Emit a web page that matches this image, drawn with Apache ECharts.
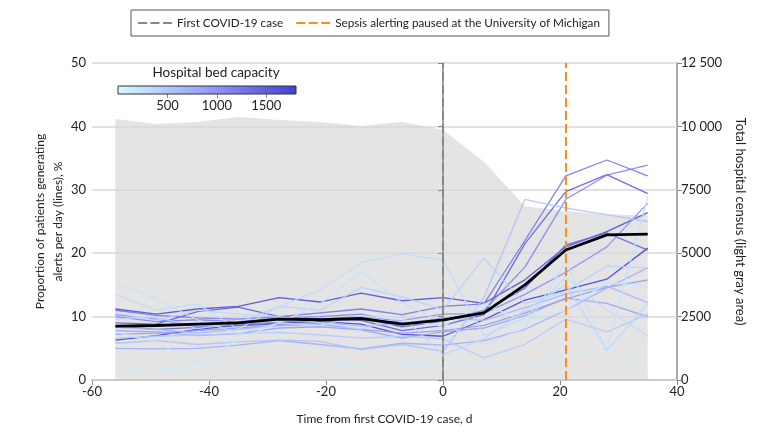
<!DOCTYPE html>
<html>
<head>
<meta charset="utf-8">
<script src="https://cdn.jsdelivr.net/npm/echarts@6/dist/echarts.min.js"></script>
<style>html,body{margin:0;padding:0;background:#fff;}#c{width:780px;height:438px;}</style>
</head>
<body>
<div id="c"></div>
<script>
// ---- data ----
const days = [-56, -49, -42, -35, -28, -21, -14, -7, 0, 7, 14, 21, 28, 35];
const census = [10290, 10095, 10170, 10370, 10250, 10170, 10015, 10185, 9860, 8610, 6850, 6665, 6530, 6505];
const meanAlerts = [8.5, 8.6, 8.8, 9.0, 9.6, 9.5, 9.7, 8.8, 9.5, 10.6, 15.0, 20.5, 22.9, 23.0];
const bedCapacity = [1780, 1650, 1500, 1420, 1280, 1150, 1050, 950, 880, 760, 680, 560, 480, 400, 320, 250, 180, 120, 350];
const h1  = [6.3, 7.0, 8.0, 8.6, 9.0, 9.2, 8.8, 7.2, 6.9, 9.5, 12.6, 14.2, 15.9, 20.8];
const h2  = [11.2, 10.4, 11.2, 11.6, 13.0, 12.3, 13.7, 12.5, 13.0, 12.1, 15.8, 21.0, 23.4, 26.4];
const h3  = [9.0, 8.8, 10.8, 11.5, 10.0, 9.6, 9.4, 7.8, 8.6, 10.3, 21.5, 29.7, 32.4, 29.4];
const h4  = [8.5, 8.0, 8.3, 8.6, 8.8, 9.0, 9.8, 8.4, 9.3, 10.8, 14.5, 21.3, 23.2, 20.5];
const h5  = [11.0, 10.2, 9.8, 9.6, 10.0, 10.6, 11.2, 10.3, 11.6, 12.0, 22.0, 32.2, 34.7, 32.2];
const h6  = [10.0, 9.2, 9.5, 9.2, 9.8, 10.0, 10.4, 9.0, 9.4, 11.0, 17.8, 28.5, 32.3, 33.9];
const h7  = [10.3, 9.6, 8.4, 8.8, 9.1, 9.6, 10.0, 9.4, 10.4, 10.5, 13.5, 17.0, 21.0, 27.9];
const h8  = [7.2, 7.4, 7.8, 8.2, 8.6, 8.8, 8.0, 7.4, 7.8, 8.6, 10.6, 12.8, 14.6, 15.8];
const h9  = [7.8, 7.6, 7.0, 7.3, 8.2, 8.4, 7.9, 6.6, 7.6, 8.2, 10.2, 12.9, 12.1, 10.0];
const h10 = [5.0, 4.9, 5.0, 5.5, 6.2, 5.6, 4.9, 5.8, 5.5, 6.2, 8.0, 11.0, 14.5, 17.7];
const h11 = [8.3, 8.0, 7.4, 8.0, 8.6, 9.1, 8.5, 8.9, 9.8, 9.4, 11.4, 13.6, 14.8, 12.2];
const h12 = [5.8, 6.2, 5.6, 6.0, 6.3, 6.1, 4.8, 5.6, 4.5, 13.0, 28.5, 27.1, 26.1, 25.0];
const h13 = [6.6, 6.9, 7.1, 7.3, 7.5, 7.1, 6.6, 6.9, 6.5, 3.5, 5.6, 9.6, 7.6, 10.4];
const h14 = [9.6, 10.0, 8.1, 9.1, 11.6, 11.0, 14.6, 13.1, 11.1, 19.2, 12.0, 14.0, 18.0, 17.7];
const h15 = [13.5, 11.0, 12.0, 8.0, 11.6, 14.2, 18.5, 19.9, 18.9, 7.0, 9.8, 16.2, 11.0, 7.0];
const h16 = [15.3, 12.8, 9.5, 7.4, 9.0, 12.0, 17.1, 12.2, 9.0, 5.6, 8.2, 18.7, 4.7, 28.9];
const h17 = [7.6, 6.0, 2.4, 6.4, 9.0, 8.6, 10.1, 9.5, 8.5, 12.0, 9.2, 11.0, 15.4, 14.8];
const h18 = [1.2, 1.7, 2.0, 2.0, 2.3, 2.0, 2.2, 2.4, 2.6, 2.6, 1.9, 3.7, 5.5, 1.3];
const h19 = [10.6, 9.4, 11.0, 10.4, 10.0, 9.0, 8.0, 10.0, 4.0, 6.5, 11.0, 15.0, 4.7, 12.0];
const hospitals = [h1, h2, h3, h4, h5, h6, h7, h8, h9, h10, h11, h12, h13, h14, h15, h16, h17, h18, h19];
const eventDays = [0, 21];
const eventNames = ['First COVID-19 case', 'Sepsis alerting paused at the University of Michigan'];
const bedTicks = [500, 1000, 1500];

// ---- styling ----
const FONT = 'Lato, Roboto, sans-serif';
const FS = 12;       // axis titles
const TS = 13;       // tick labels
const bedMax = 1800;
const stops = [[0, [212, 252, 255]], [0.5, [150, 158, 252]], [1, [64, 64, 210]]];
function bedColor(v) {
  const t = Math.max(0, Math.min(1, v / bedMax));
  for (let i = 0; i < stops.length - 1; i++) {
    const [a, ca] = stops[i], [b, cb] = stops[i + 1];
    if (t <= b) {
      const f = (t - a) / (b - a);
      const c = ca.map((x, k) => Math.round(x + (cb[k] - x) * f));
      return 'rgb(' + c.join(',') + ')';
    }
  }
}
const pairs = arr => days.map((d, i) => [d, arr[i]]);
const DASH_ICON = 'path://M0,0H10V2H0Z M14,0H24V2H14Z M28,0H38V2H28Z';

const series = [];
series.push({
  type: 'line', name: 'census', xAxisIndex: 0, yAxisIndex: 1, data: pairs(census),
  symbol: 'none', lineStyle: { width: 0 }, areaStyle: { color: '#e4e4e4', opacity: 1 },
  z: 0, silent: true
});
hospitals.forEach((h, i) => {
  series.push({
    type: 'line', xAxisIndex: 0, yAxisIndex: 0, data: pairs(h), symbol: 'none',
    lineStyle: { width: 1.3, color: bedColor(bedCapacity[i]), opacity: 0.9 }, z: 3, silent: true
  });
});
series.push({
  type: 'line', name: 'mean', xAxisIndex: 0, yAxisIndex: 0, data: pairs(meanAlerts), symbol: 'none',
  lineStyle: { width: 2.8, color: '#000' }, z: 5, silent: true
});
const evColors = ['#8a8a78', '#ff8c1a'];
eventDays.forEach((d, i) => {
  series.push({
    type: 'line', name: eventNames[i], xAxisIndex: 0, yAxisIndex: 0, data: [], symbol: 'none',
    lineStyle: { width: 2, color: evColors[i], type: [9, 4] }, itemStyle: { color: evColors[i] },
    markLine: {
      silent: true, symbol: ['none', 'none'], label: { show: false },
      lineStyle: { width: 2, color: evColors[i], type: [9, 4] },
      data: [{ xAxis: d }]
    },
    z: 6
  });
});
// colorbar
series.push({
  type: 'line', xAxisIndex: 1, yAxisIndex: 2, data: [], symbol: 'none', silent: true,
  markArea: {
    silent: true,
    itemStyle: {
      color: new echarts.graphic.LinearGradient(0, 0, 1, 0, stops.map(s => ({ offset: s[0], color: 'rgb(' + s[1].join(',') + ')' }))),
      borderColor: '#333', borderWidth: 1
    },
    data: [[{ xAxis: 0, yAxis: 0 }, { xAxis: bedMax, yAxis: 1 }]]
  }
});

const chart = echarts.init(document.getElementById('c'), null, { renderer: 'canvas' });
chart.setOption({
  animation: false,
  textStyle: { fontFamily: FONT },
  legend: {
    data: eventNames.map((n, i) => ({ name: n, icon: DASH_ICON, itemStyle: { color: evColors[i] } })),
    left: 131, top: 10, padding: [7, 9, 7, 7], itemGap: 13,
    itemWidth: 34, itemHeight: 2.2, borderColor: '#555', borderWidth: 1,
    textStyle: { fontFamily: FONT, fontSize: 11.7, color: '#222' }
  },
  graphic: [{
    type: 'text', x: 216, y: 73,
    style: { text: 'Hospital bed capacity', font: '13.5px ' + FONT, fill: '#222', align: 'center', verticalAlign: 'middle' }
  }],
  grid: [
    { left: 92, right: 103, top: 63, bottom: 58 },
    { left: 118, width: 178, top: 86, height: 8 }
  ],
  xAxis: [{
    type: 'value', gridIndex: 0, min: -60, max: 40, interval: 20,
    name: 'Time from first COVID-19 case, d', nameLocation: 'middle', nameGap: 33, nameMoveOverlap: false,
    nameTextStyle: { fontFamily: FONT, fontSize: FS, color: '#222' },
    axisLine: { show: true, onZero: false, lineStyle: { color: '#888', width: 1.5 } },
    axisTick: { show: true, length: 5, lineStyle: { color: '#888' } },
    axisLabel: { fontSize: TS, color: '#222', margin: 5 },
    splitLine: { show: false }
  }, {
    type: 'value', gridIndex: 1, min: 0, max: bedMax,
    axisLine: { show: false },
    axisTick: { show: true, length: 4, customValues: bedTicks, lineStyle: { color: '#888' } },
    axisLabel: { fontSize: TS, color: '#222', margin: 5, customValues: bedTicks, formatter: v => String(v) },
    splitLine: { show: false }
  }],
  yAxis: [{
    type: 'value', gridIndex: 0, min: 0, max: 50, interval: 10, position: 'left',
    name: 'Proportion of patients generating\nalerts per day (lines), %', nameLocation: 'middle', nameGap: 25, nameMoveOverlap: false,
    nameTextStyle: { fontFamily: FONT, fontSize: FS, color: '#222', lineHeight: 18 },
    axisLine: { show: true, lineStyle: { color: '#888', width: 1.5 } },
    axisTick: { show: true, length: 5, lineStyle: { color: '#888' } },
    axisLabel: { fontSize: TS, color: '#222', margin: 6 },
    splitLine: { show: true, lineStyle: { color: '#d8d8d8', width: 1.5 } },
    z: 1
  }, {
    type: 'value', gridIndex: 0, min: 0, max: 12500, interval: 2500, position: 'right',
    name: 'Total hospital census (light gray area)', nameLocation: 'middle', nameGap: 57, nameRotate: -90, nameMoveOverlap: false,
    nameTextStyle: { fontFamily: FONT, fontSize: 13, color: '#222' },
    axisLine: { show: true, lineStyle: { color: '#aaa', width: 2 } },
    axisTick: { show: true, length: 5, lineStyle: { color: '#888' } },
    axisLabel: { fontSize: TS, color: '#222', margin: 4,
      formatter: v => v >= 10000 ? String(v).replace(/(\d)(?=(\d{3})+$)/g, '$1 ') : String(v) },
    splitLine: { show: false }
  }, {
    type: 'value', gridIndex: 1, min: 0, max: 1, show: false
  }],
  series: series
});
</script>
</body>
</html>
